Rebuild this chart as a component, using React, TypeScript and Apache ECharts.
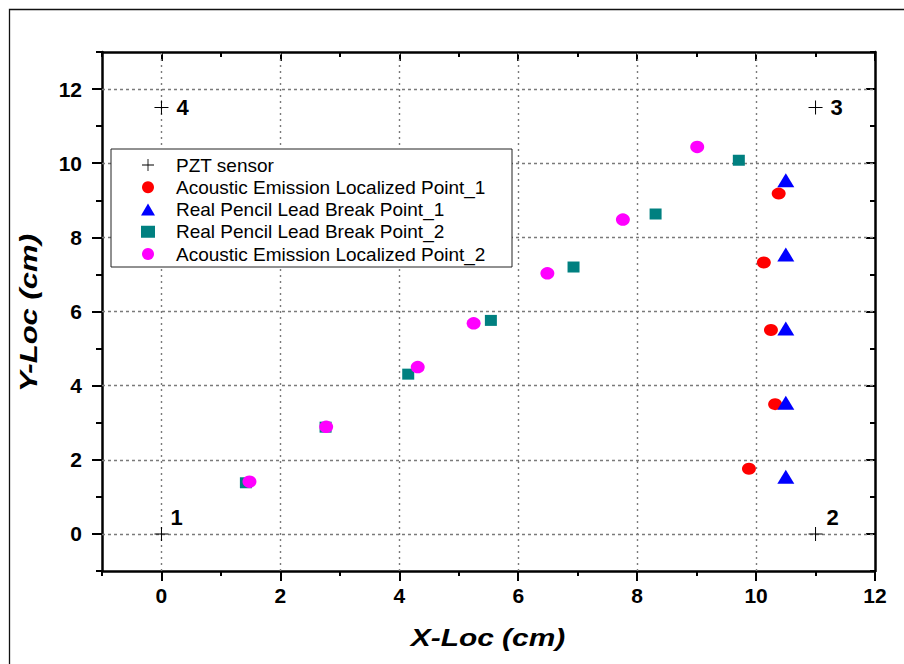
import React, { useEffect, useRef } from "react";
import * as echarts from "echarts";

// ---------- data ----------
const seriesNames = [
  "PZT sensor",
  "Acoustic Emission Localized Point_1",
  "Real Pencil Lead Break Point_1",
  "Real Pencil Lead Break Point_2",
  "Acoustic Emission Localized Point_2",
];

const sensorX = [0, 11, 11, 0];
const sensorY = [0, 0, 11.5, 11.5];
const sensorLabels = ["1", "2", "3", "4"];

const ae1X = [10.38, 10.13, 10.25, 10.32, 9.88];
const ae1Y = [9.18, 7.32, 5.5, 3.5, 1.76];

const plb1X = [10.5, 10.5, 10.5, 10.5, 10.5];
const plb1Y = [9.5, 7.5, 5.5, 3.5, 1.5];

const plb2X = [1.42, 2.76, 4.15, 5.54, 6.93, 8.31, 9.71];
const plb2Y = [1.38, 2.88, 4.31, 5.76, 7.2, 8.63, 10.08];

const ae2X = [1.48, 2.77, 4.31, 5.25, 6.49, 7.76, 9.01];
const ae2Y = [1.41, 2.89, 4.5, 5.68, 7.03, 8.48, 10.44];

const xMajor = [0, 2, 4, 6, 8, 10, 12];
const xMinor = [-1, 1, 3, 5, 7, 9, 11];
const yMajor = [0, 2, 4, 6, 8, 10, 12];
const yMinor = [-1, 1, 3, 5, 7, 9, 11, 13];
const xGrid = [0, 2, 4, 6, 8, 10];
const yGrid = [0, 2, 4, 6, 8, 10, 12];

const X_MIN = -1;
const X_MAX = 12;
const Y_MIN = -1;
const Y_MAX = 13;

const xTitle = "X-Loc (cm)";
const yTitle = "Y-Loc (cm)";

// ---------- style ----------
const FONT = "'Liberation Sans', Arial, sans-serif";
const PLUS = "path://M0,6.5H14V7.5H0Z M6.5,0H7.5V14H6.5Z";
const colors = ["#000000", "#ff0000", "#0000ff", "#008080", "#ff00ff"];
const symbols = [PLUS, "circle", "triangle", "rect", "circle"];

const zip = (xs: number[], ys: number[]) => xs.map((x, i) => [x, ys[i]]);

function tickAxis(
  min: number,
  max: number,
  position: string,
  ticks: number[],
  length: number,
  inside: boolean,
  labels: boolean,
  line: boolean,
  labelMargin: number
) {
  return {
    type: "value",
    min,
    max,
    position,
    splitLine: { show: false },
    axisLine: {
      show: line,
      onZero: false,
      lineStyle: { color: "#000", width: 2.5, opacity: 1 },
    },
    axisTick: {
      show: true,
      inside,
      length,
      customValues: ticks,
      lineStyle: { color: "#000", width: 2, opacity: 1 },
    },
    axisLabel: labels
      ? {
          show: true,
          customValues: ticks,
          margin: labelMargin,
          fontSize: 21,
          fontWeight: "bold",
          color: "#000",
          fontFamily: FONT,
        }
      : { show: false },
  };
}

export default function App() {
  const ref = useRef<HTMLDivElement>(null);

  useEffect(() => {
    document.body.style.margin = "0";
    const chart = echarts.init(ref.current!, null, { renderer: "svg" });

    const gridMarks = [
      ...xGrid.map((v) => ({
        xAxis: v,
        lineStyle: { color: "#7a7a7a", width: 1.4, type: [2, 4] },
      })),
      ...yGrid.map((v) => ({
        yAxis: v,
        lineStyle: { color: "#7a7a7a", width: 1.3, type: [3, 3] },
      })),
    ];

    const option: any = {
      animation: false,
      backgroundColor: "#fff",
      grid: { left: 102, right: 29, top: 52, bottom: 93, containLabel: false },
      xAxis: [
        tickAxis(X_MIN, X_MAX, "bottom", xMajor, 10, false, true, true, 14),
        tickAxis(X_MIN, X_MAX, "bottom", xMinor, 5, false, false, false, 0),
        tickAxis(X_MIN, X_MAX, "top", xMajor, 9, true, false, true, 0),
        tickAxis(X_MIN, X_MAX, "top", xMinor, 5, true, false, false, 0),
      ],
      yAxis: [
        tickAxis(Y_MIN, Y_MAX, "left", yMajor, 10, false, true, true, 20),
        tickAxis(Y_MIN, Y_MAX, "left", yMinor, 6, false, false, false, 0),
        tickAxis(Y_MIN, Y_MAX, "right", yMajor, 9, true, false, true, 0),
        tickAxis(Y_MIN, Y_MAX, "right", yMinor, 5, true, false, false, 0),
      ],
      legend: {
        orient: "vertical",
        left: 111,
        top: 149,
        padding: [6.5, 14, 3.5, 30],
        itemGap: 3.25,
        itemWidth: 14,
        itemHeight: 12,
        borderColor: "#222",
        borderWidth: 1,
        backgroundColor: "#fff",
        borderRadius: 0,
        selectedMode: false,
        data: seriesNames.map((n, i) => ({ name: n, icon: symbols[i] })),
        formatter: (name: string) => `{g|}{t|${name}}`,
        textStyle: {
          fontSize: 19,
          lineHeight: 19,
          fontFamily: FONT,
          color: "#000",
          rich: {
            g: { width: 16, height: 19, lineHeight: 19 },
            t: {
              width: 322,
              height: 19,
              lineHeight: 19,
              fontSize: 19,
              fontFamily: FONT,
              color: "#000",
            },
          },
        },
      },
      graphic: [
        {
          type: "rect",
          silent: true,
          shape: { x: 9.5, y: 9.5, width: 1000, height: 1000 },
          style: { fill: "none", stroke: "#111", lineWidth: 1.3 },
          z: 100,
        },
        {
          type: "text",
          x: 488,
          y: 638,
          scaleX: 1.3,
          style: {
            text: xTitle,
            font: `italic bold 23px ${FONT}`,
            fill: "#000",
            textAlign: "center",
            textVerticalAlign: "middle",
          },
        },
        {
          type: "text",
          x: 29,
          y: 313,
          rotation: Math.PI / 2,
          scaleX: 1.35,
          style: {
            text: yTitle,
            font: `italic bold 23px ${FONT}`,
            fill: "#000",
            textAlign: "center",
            textVerticalAlign: "middle",
          },
        },
      ],
      series: [
        {
          name: seriesNames[0],
          type: "scatter",
          symbol: PLUS,
          symbolSize: 14,
          itemStyle: { color: colors[0], opacity: 1 },
          data: zip(sensorX, sensorY).map((v, i) => ({
            value: v,
            label: {
              position: "right",
              distance: i < 2 ? 2 + i * 2 : 8,
              offset: i < 2 ? [0, -16] : [0, 0],
            },
          })),
          label: {
            show: true,
            formatter: (p: any) => sensorLabels[p.dataIndex],
            fontSize: 22,
            fontWeight: "bold",
            fontFamily: FONT,
            color: "#000",
          },
          markLine: {
            silent: true,
            symbol: "none",
            z: 1,
            label: { show: false },
            emphasis: { disabled: true },
            data: gridMarks,
          },
        },
        {
          name: seriesNames[1],
          type: "scatter",
          symbol: symbols[1],
          symbolSize: [14, 12],
          itemStyle: { color: colors[1], opacity: 1 },
          data: zip(ae1X, ae1Y),
        },
        {
          name: seriesNames[2],
          type: "scatter",
          symbol: symbols[2],
          symbolSize: [17, 14],
          symbolOffset: [0, -1.5],
          itemStyle: { color: colors[2], opacity: 1 },
          data: zip(plb1X, plb1Y),
        },
        {
          name: seriesNames[3],
          type: "scatter",
          symbol: symbols[3],
          symbolSize: [12, 11],
          itemStyle: { color: colors[3], opacity: 1 },
          data: zip(plb2X, plb2Y),
        },
        {
          name: seriesNames[4],
          type: "scatter",
          symbol: symbols[4],
          symbolSize: [14, 12.5],
          itemStyle: { color: colors[4], opacity: 1 },
          data: zip(ae2X, ae2Y),
        },
      ],
    };

    chart.setOption(option);
    return () => chart.dispose();
  }, []);

  return (
    <div
      ref={ref}
      style={{ position: "fixed", left: 0, top: 0, width: 904, height: 664 }}
    />
  );
}
